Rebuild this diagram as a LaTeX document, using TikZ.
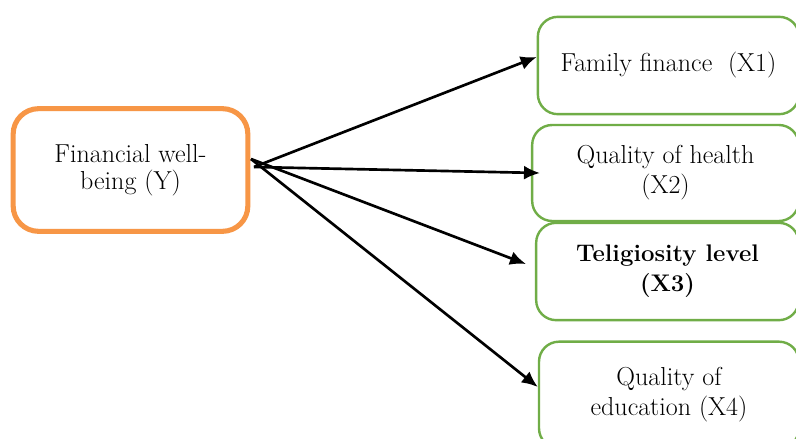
\documentclass[tikz,border=0pt]{standalone}
\usetikzlibrary{arrows.meta}
\definecolor{boxorange}{RGB}{247,150,70}
\definecolor{boxgreen}{RGB}{112,173,71}

\begin{document}
\begin{tikzpicture}[x=0.75pt, y=-0.75pt,
    outcome/.style={rectangle, rounded corners=19pt, draw=boxorange, line width=3.8pt, align=center, font=\fontsize{19.5}{20.5}\selectfont},
    factor/.style={rectangle, rounded corners=15pt, draw=boxgreen, line width=1.8pt, align=center, font=\fontsize{19.5}{22.5}\selectfont},
    arr/.style={-{Latex[length=12pt, width=10.5pt]}, line width=2pt}]
    \clip (0, 0) rectangle (796, 439);
    \fill[white] (0, 0) rectangle (796, 439);

    % 被説明変数
    \node[outcome, minimum width=176pt, minimum height=92pt] (Y) at (130.5, 170) {Financial well-\\being (Y)};

    % 説明変数
    \node[factor, minimum width=196pt, minimum height=73pt] (X1) at (668.5, 65.5) {Family finance~~(X1)};
    \node[factor, minimum width=200pt, minimum height=72pt] (X2) at (665.5, 173) {Quality of health\\(X2)};
    \node[factor, minimum width=197pt, minimum height=73pt, font=\fontsize{18}{22.5}\selectfont\bfseries] (X3) at (667.5, 271.5) {Teligiosity level\\(X3)};
    \node[factor, minimum width=195pt, minimum height=80pt] (X4) at (669, 395) {Quality of\\education (X4)};

    \coordinate (srcA) at (254, 167);
    \coordinate (srcB) at (251, 159);

    \draw[arr] (srcA) -- ([yshift=6.4pt]X1.west);
    \draw[arr] (srcA) -- ([xshift=6.75pt]X2.west);
    \draw[arr] (srcB) -- ([xshift=-6.75pt, yshift=5.6pt]X3.west);
    \draw[arr] (srcB) -- ([yshift=6pt]X4.west);

\end{tikzpicture}
\end{document}
